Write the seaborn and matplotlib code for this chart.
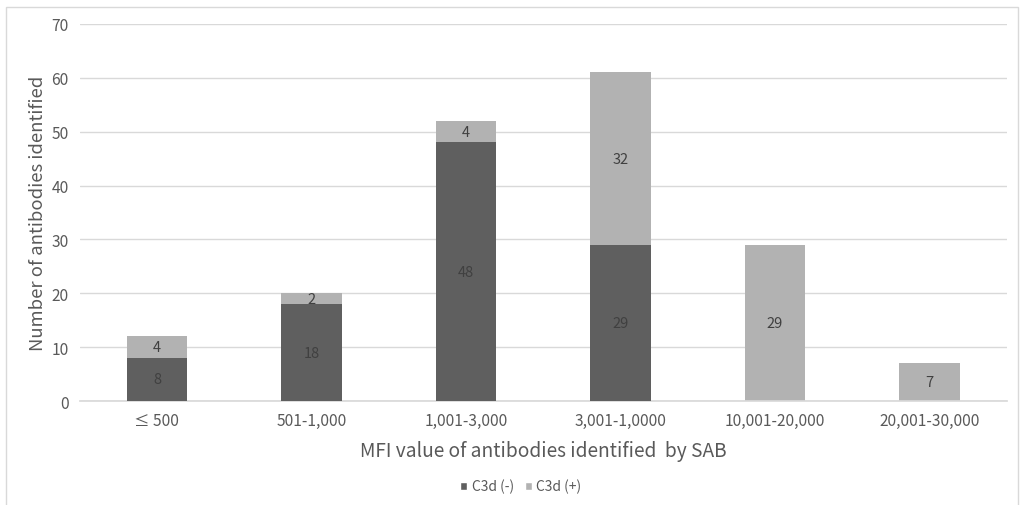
import matplotlib
matplotlib.use("Agg")
import matplotlib.pyplot as plt
from matplotlib.patches import Rectangle, Patch
import seaborn as sns
import pandas as pd

categories = ["\u2264 500", "501-1,000", "1,001-3,000", "3,001-1,0000", "10,001-20,000", "20,001-30,000"]
c3d_neg = [8, 18, 48, 29, 0, 0]
c3d_pos = [4, 2, 4, 32, 29, 7]
series_names = ["C3d (-)", "C3d (+)"]
y_ticks = [0, 10, 20, 30, 40, 50, 60, 70]

dark = "#5f5f5f"
light = "#b2b2b2"
text_col = "#595959"

sns.set_theme(style="white")
plt.rcParams["font.family"] = ["Noto Sans CJK KR", "DejaVu Sans"]

totals = [n + p for n, p in zip(c3d_neg, c3d_pos)]
df = pd.DataFrame({"cat": categories, "neg": c3d_neg, "pos": c3d_pos, "total": totals})

fig = plt.figure(figsize=(10.21, 5.06), dpi=100)
ax = fig.add_axes([0.078, 0.2055, 0.908, 0.7451])

# stacked bars: full height in light grey, lower segment in dark grey on top
sns.barplot(data=df, x="cat", y="total", color=light, width=0.39, saturation=1, linewidth=0,
            ax=ax, zorder=2)
sns.barplot(data=df, x="cat", y="neg", color=dark, width=0.39, saturation=1, linewidth=0,
            ax=ax, zorder=3)

for i, (n, p) in enumerate(zip(c3d_neg, c3d_pos)):
    if n > 0:
        ax.text(i, n / 2, str(n), ha="center", va="center", fontsize=10.5, color="#404040", zorder=4)
    if p > 0:
        ax.text(i, n + p / 2, str(p), ha="center", va="center", fontsize=10.5, color="#404040", zorder=4)

ax.set_ylim(0, 70)
ax.set_yticks(y_ticks)
ax.set_xlim(-0.5, len(categories) - 0.5)
ax.yaxis.grid(True, color="#d9d9d9", linewidth=1)
ax.set_axisbelow(True)
for s in ["top", "right", "left"]:
    ax.spines[s].set_visible(False)
ax.spines["bottom"].set_color("#d9d9d9")
ax.tick_params(axis="both", length=0, labelsize=11.2, colors=text_col, pad=8)
ax.set_xlabel("MFI value of antibodies identified  by SAB", fontsize=13.8, color=text_col, labelpad=8)
ax.set_ylabel("Number of antibodies identified", fontsize=13.3, color=text_col, labelpad=3)

handles = [Patch(facecolor=dark, label=series_names[0]), Patch(facecolor=light, label=series_names[1])]
fig.legend(handles=handles, loc="center", bbox_to_anchor=(0.51, 0.037), ncol=2, frameon=False,
           fontsize=10, handlelength=0.5, handleheight=0.5, handletextpad=0.3, columnspacing=0.8,
           labelcolor=text_col)

# outer chart border
fig.patches.append(Rectangle((6 / 1021, -0.01), 1012 / 1021, 1 - 8 / 506 + 0.01, transform=fig.transFigure,
                             fill=False, edgecolor="#d9d9d9", linewidth=1))

fig.savefig("out.png", dpi=100)
